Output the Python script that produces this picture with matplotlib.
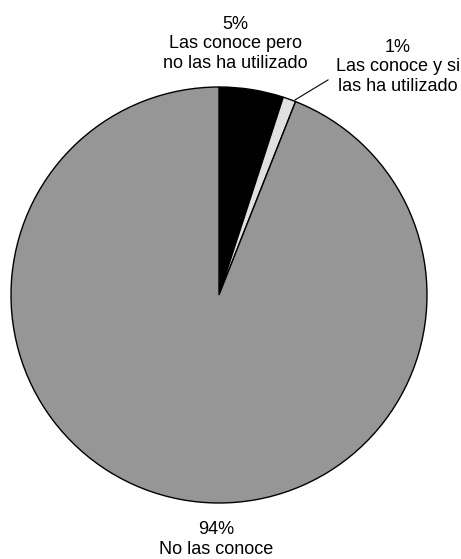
import matplotlib
matplotlib.use("Agg")
import matplotlib.pyplot as plt

plt.rcParams['font.family'] = ['Liberation Sans', 'DejaVu Sans']

# data
labels = ['Las conoce pero\nno las ha utilizado', 'Las conoce y si\nlas ha utilizado', 'No las conoce']
pcts = ['5%', '1%', '94%']
values = [5, 1, 94]
colors = ['#000000', '#e0e0e0', '#969696']

fig = plt.figure(figsize=(4.61, 5.59), dpi=100)
# pie centre ~ (219, 295) px, radius ~208 px
ax = fig.add_axes([11/461, (559-503)/559, 416/461, 416/559])
ax.pie(values, colors=colors, startangle=90, counterclock=False, radius=1,
       wedgeprops=dict(edgecolor='black', linewidth=1))
ax.set_xlim(-1, 1)
ax.set_ylim(-1, 1)
ax.set_aspect('equal')
ax.axis('off')

# label positions (data units, last-line baseline)
label_pos = [(0.079, 1.091), (0.861, 0.981), (-0.014, -1.245)]
for (x, y), p, l in zip(label_pos, pcts, labels):
    ax.text(x, y, p + '\n' + l, ha='center', va='baseline', fontsize=13,
            linespacing=1.2, clip_on=False)

# leader line for the small slice
ax.plot([0.365, 0.524], [0.9375, 1.034], color='black', linewidth=0.8, clip_on=False)

fig.savefig('out.png', dpi=100)
